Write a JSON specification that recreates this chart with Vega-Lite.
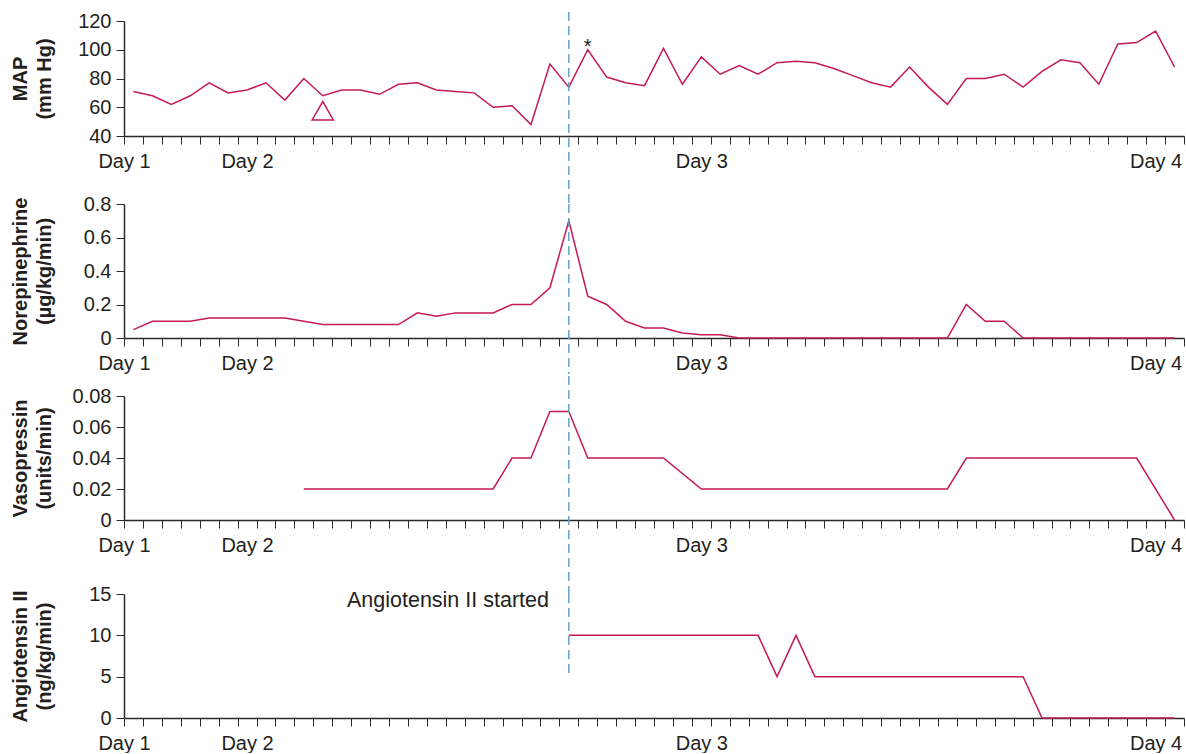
{
  "$schema": "https://vega.github.io/schema/vega-lite/v6.json",
  "padding": {"left": 10, "top": 11, "right": 0, "bottom": 0},
  "bounds": "full",
  "spacing": 0,
  "datasets": {
    "map": [
      {"t": 0.5, "v": 71}, {"t": 1.5, "v": 68}, {"t": 2.5, "v": 62}, {"t": 3.5, "v": 68},
      {"t": 4.5, "v": 77}, {"t": 5.5, "v": 70}, {"t": 6.5, "v": 72}, {"t": 7.5, "v": 77},
      {"t": 8.5, "v": 65}, {"t": 9.5, "v": 80}, {"t": 10.5, "v": 68}, {"t": 11.5, "v": 72},
      {"t": 12.5, "v": 72}, {"t": 13.5, "v": 69}, {"t": 14.5, "v": 76}, {"t": 15.5, "v": 77},
      {"t": 16.5, "v": 72}, {"t": 17.5, "v": 71}, {"t": 18.5, "v": 70}, {"t": 19.5, "v": 60},
      {"t": 20.5, "v": 61}, {"t": 21.5, "v": 48}, {"t": 22.5, "v": 90}, {"t": 23.5, "v": 74},
      {"t": 24.5, "v": 100}, {"t": 25.5, "v": 81}, {"t": 26.5, "v": 77}, {"t": 27.5, "v": 75},
      {"t": 28.5, "v": 101}, {"t": 29.5, "v": 76}, {"t": 30.5, "v": 95}, {"t": 31.5, "v": 83},
      {"t": 32.5, "v": 89}, {"t": 33.5, "v": 83}, {"t": 34.5, "v": 91}, {"t": 35.5, "v": 92},
      {"t": 36.5, "v": 91}, {"t": 37.5, "v": 87}, {"t": 38.5, "v": 82}, {"t": 39.5, "v": 77},
      {"t": 40.5, "v": 74}, {"t": 41.5, "v": 88}, {"t": 42.5, "v": 74}, {"t": 43.5, "v": 62},
      {"t": 44.5, "v": 80}, {"t": 45.5, "v": 80}, {"t": 46.5, "v": 83}, {"t": 47.5, "v": 74},
      {"t": 48.5, "v": 85}, {"t": 49.5, "v": 93}, {"t": 50.5, "v": 91}, {"t": 51.5, "v": 76},
      {"t": 52.5, "v": 104}, {"t": 53.5, "v": 105}, {"t": 54.5, "v": 113}, {"t": 55.5, "v": 88}
    ],
    "ne": [
      {"t": 0.5, "v": 0.05}, {"t": 1.5, "v": 0.1}, {"t": 2.5, "v": 0.1}, {"t": 3.5, "v": 0.1},
      {"t": 4.5, "v": 0.12}, {"t": 5.5, "v": 0.12}, {"t": 6.5, "v": 0.12}, {"t": 7.5, "v": 0.12},
      {"t": 8.5, "v": 0.12}, {"t": 9.5, "v": 0.1}, {"t": 10.5, "v": 0.08}, {"t": 11.5, "v": 0.08},
      {"t": 12.5, "v": 0.08}, {"t": 13.5, "v": 0.08}, {"t": 14.5, "v": 0.08}, {"t": 15.5, "v": 0.15},
      {"t": 16.5, "v": 0.13}, {"t": 17.5, "v": 0.15}, {"t": 18.5, "v": 0.15}, {"t": 19.5, "v": 0.15},
      {"t": 20.5, "v": 0.2}, {"t": 21.5, "v": 0.2}, {"t": 22.5, "v": 0.3}, {"t": 23.5, "v": 0.7},
      {"t": 24.5, "v": 0.25}, {"t": 25.5, "v": 0.2}, {"t": 26.5, "v": 0.1}, {"t": 27.5, "v": 0.06},
      {"t": 28.5, "v": 0.06}, {"t": 29.5, "v": 0.03}, {"t": 30.5, "v": 0.02}, {"t": 31.5, "v": 0.02},
      {"t": 32.5, "v": 0}, {"t": 43.5, "v": 0}, {"t": 44.5, "v": 0.2}, {"t": 45.5, "v": 0.1},
      {"t": 46.5, "v": 0.1}, {"t": 47.5, "v": 0}, {"t": 55.5, "v": 0}
    ],
    "vp": [
      {"t": 9.5, "v": 0.02}, {"t": 19.5, "v": 0.02}, {"t": 20.5, "v": 0.04}, {"t": 21.5, "v": 0.04},
      {"t": 22.5, "v": 0.07}, {"t": 23.5, "v": 0.07}, {"t": 24.5, "v": 0.04}, {"t": 28.5, "v": 0.04},
      {"t": 30.5, "v": 0.02}, {"t": 43.5, "v": 0.02}, {"t": 44.5, "v": 0.04}, {"t": 53.5, "v": 0.04},
      {"t": 55.5, "v": 0}
    ],
    "ang": [
      {"t": 23.5, "v": 10}, {"t": 33.5, "v": 10}, {"t": 34.5, "v": 5}, {"t": 35.5, "v": 10},
      {"t": 36.5, "v": 5}, {"t": 47.5, "v": 5}, {"t": 48.5, "v": 0}, {"t": 55.5, "v": 0}
    ],
    "start": [{"t": 23.5}],
    "tri": [{"t": 10.5, "v": 57.6}],
    "star": [{"t": 24.5, "v": 97.5, "label": "*"}],
    "note": [{"t": 22.45, "v": 14.15, "label": "Angiotensin II started"}]
  },
  "vconcat": [
    {
      "bounds": "flush",
      "spacing": 68,
      "vconcat": [
        {
          "width": 1060, "height": 115,
          "encoding": {
            "x": {"field": "t", "type": "quantitative", "scale": {"domain": [0, 56], "nice": false, "zero": false},
              "axis": {"title": null, "tickCount": 200, "values": [0,1,2,3,4,5,6,7,8,9,10,11,12,13,14,15,16,17,18,19,20,21,22,23,24,25,26,27,28,29,30,31,32,33,34,35,36,37,38,39,40,41,42,43,44,45,46,47,48,49,50,51,52,53,54,55,56,6.5,30.5,54.5],
                "labelExpr": "datum.value == 0 ? 'Day 1' : datum.value == 6.5 ? 'Day 2' : datum.value == 30.5 ? 'Day 3' : datum.value == 54.5 ? 'Day 4' : ''",
                "tickOpacity": {"condition": {"test": "datum.value % 1 != 0", "value": 0}, "value": 1}}}
          },
          "layer": [
            {"data": {"name": "map"}, "mark": {"type": "line", "color": "#c51b55", "strokeWidth": 1.5},
             "encoding": {"y": {"field": "v", "type": "quantitative", "scale": {"domain": [40, 120], "nice": false, "zero": false},
               "axis": {"title": ["MAP", "(mm Hg)"], "tickCount": 20, "values": [40, 60, 80, 100, 120], "format": "d"}}}},
            {"data": {"name": "tri"}, "mark": {"type": "point", "shape": "triangle-up", "filled": false, "size": 450, "color": "#c51b55", "strokeWidth": 1.5, "opacity": 1},
             "encoding": {"y": {"field": "v", "type": "quantitative"}}},
            {"data": {"name": "star"}, "mark": {"type": "text", "fontSize": 20, "baseline": "alphabetic", "color": "#231f20", "font": "Liberation Sans"},
             "encoding": {"y": {"field": "v", "type": "quantitative"}, "text": {"field": "label"}}},
            {"data": {"name": "start"}, "mark": {"type": "rule", "color": "#6a9ec6", "strokeDash": [9, 5], "strokeWidth": 1.5},
             "encoding": {"y": {"datum": 126.3}, "y2": {"datum": -7.3}}}
          ]
        },
        {
          "width": 1060, "height": 134,
          "encoding": {
            "x": {"field": "t", "type": "quantitative", "scale": {"domain": [0, 56], "nice": false, "zero": false},
              "axis": {"title": null, "tickCount": 200, "values": [0,1,2,3,4,5,6,7,8,9,10,11,12,13,14,15,16,17,18,19,20,21,22,23,24,25,26,27,28,29,30,31,32,33,34,35,36,37,38,39,40,41,42,43,44,45,46,47,48,49,50,51,52,53,54,55,56,6.5,30.5,54.5],
                "labelExpr": "datum.value == 0 ? 'Day 1' : datum.value == 6.5 ? 'Day 2' : datum.value == 30.5 ? 'Day 3' : datum.value == 54.5 ? 'Day 4' : ''",
                "tickOpacity": {"condition": {"test": "datum.value % 1 != 0", "value": 0}, "value": 1}}}
          },
          "layer": [
            {"data": {"name": "ne"}, "mark": {"type": "line", "color": "#c51b55", "strokeWidth": 1.5},
             "encoding": {"y": {"field": "v", "type": "quantitative", "scale": {"domain": [0, 0.8], "nice": false, "zero": false},
               "axis": {"title": ["Norepinephrine", "(µg/kg/min)"], "tickCount": 20, "values": [0, 0.2, 0.4, 0.6, 0.8], "format": ".1~f"}}}},
            {"data": {"name": "start"}, "mark": {"type": "rule", "color": "#6a9ec6", "strokeDash": [9, 5], "strokeWidth": 1.5},
             "encoding": {"y": {"datum": 0.8}, "y2": {"datum": -0.215}}}
          ]
        }
      ]
    },
    {
      "bounds": "flush",
      "spacing": 74,
      "vconcat": [
        {
          "width": 1060, "height": 124,
          "encoding": {
            "x": {"field": "t", "type": "quantitative", "scale": {"domain": [0, 56], "nice": false, "zero": false},
              "axis": {"title": null, "tickCount": 200, "values": [0,1,2,3,4,5,6,7,8,9,10,11,12,13,14,15,16,17,18,19,20,21,22,23,24,25,26,27,28,29,30,31,32,33,34,35,36,37,38,39,40,41,42,43,44,45,46,47,48,49,50,51,52,53,54,55,56,6.5,30.5,54.5],
                "labelExpr": "datum.value == 0 ? 'Day 1' : datum.value == 6.5 ? 'Day 2' : datum.value == 30.5 ? 'Day 3' : datum.value == 54.5 ? 'Day 4' : ''",
                "tickOpacity": {"condition": {"test": "datum.value % 1 != 0", "value": 0}, "value": 1}}}
          },
          "layer": [
            {"data": {"name": "vp"}, "mark": {"type": "line", "color": "#c51b55", "strokeWidth": 1.5},
             "encoding": {"y": {"field": "v", "type": "quantitative", "scale": {"domain": [0, 0.08], "nice": false, "zero": false},
               "axis": {"title": ["Vasopressin", "(units/min)"], "tickCount": 20, "values": [0, 0.02, 0.04, 0.06, 0.08], "format": ".2~f"}}}},
            {"data": {"name": "start"}, "mark": {"type": "rule", "color": "#6a9ec6", "strokeDash": [9, 5], "strokeWidth": 1.5},
             "encoding": {"y": {"datum": 0.0929}, "y2": {"datum": -0.048}}}
          ]
        },
        {
          "width": 1060, "height": 124,
          "encoding": {
            "x": {"field": "t", "type": "quantitative", "scale": {"domain": [0, 56], "nice": false, "zero": false},
              "axis": {"title": null, "tickCount": 200, "values": [0,1,2,3,4,5,6,7,8,9,10,11,12,13,14,15,16,17,18,19,20,21,22,23,24,25,26,27,28,29,30,31,32,33,34,35,36,37,38,39,40,41,42,43,44,45,46,47,48,49,50,51,52,53,54,55,56,6.5,30.5,54.5],
                "labelExpr": "datum.value == 0 ? 'Day 1' : datum.value == 6.5 ? 'Day 2' : datum.value == 30.5 ? 'Day 3' : datum.value == 54.5 ? 'Day 4' : ''",
                "tickOpacity": {"condition": {"test": "datum.value % 1 != 0", "value": 0}, "value": 1}}}
          },
          "layer": [
            {"data": {"name": "ang"}, "mark": {"type": "line", "color": "#c51b55", "strokeWidth": 1.5},
             "encoding": {"y": {"field": "v", "type": "quantitative", "scale": {"domain": [0, 15], "nice": false, "zero": false},
               "axis": {"title": ["Angiotensin II", "(ng/kg/min)"], "tickCount": 20, "values": [0, 5, 10, 15], "format": "d"}}}},
            {"data": {"name": "note"}, "mark": {"type": "text", "fontSize": 21.5, "align": "right", "baseline": "middle", "color": "#231f20", "font": "Liberation Sans"},
             "encoding": {"y": {"field": "v", "type": "quantitative"}, "text": {"field": "label"}}},
            {"data": {"name": "start"}, "mark": {"type": "rule", "color": "#6a9ec6", "strokeDash": [9, 5], "strokeWidth": 1.5},
             "encoding": {"y": {"datum": 15}, "y2": {"datum": 5.2}}}
          ]
        }
      ]
    }
  ],
  "config": {
    "view": {"stroke": null},
    "font": "Liberation Sans",
    "axis": {
      "grid": false, "labelOverlap": false,
      "labelFont": "Liberation Sans", "labelFontSize": 20, "labelColor": "#231f20",
      "titleFont": "Liberation Sans", "titleFontSize": 20, "titleFontWeight": "bold", "titleColor": "#231f20",
      "domainColor": "#2b2b2b", "domainWidth": 1.5, "tickColor": "#2b2b2b", "tickWidth": 1, "tickSize": 8
    },
    "axisX": {"labelPadding": 7, "labelOverlap": false, "labelFlush": false, "labelBound": false},
    "axisY": {"labelPadding": 5, "labelOverlap": false, "titleX": -98, "titleBaseline": "alphabetic", "titleLineHeight": 24, "titleAlign": "center"}
  }
}
